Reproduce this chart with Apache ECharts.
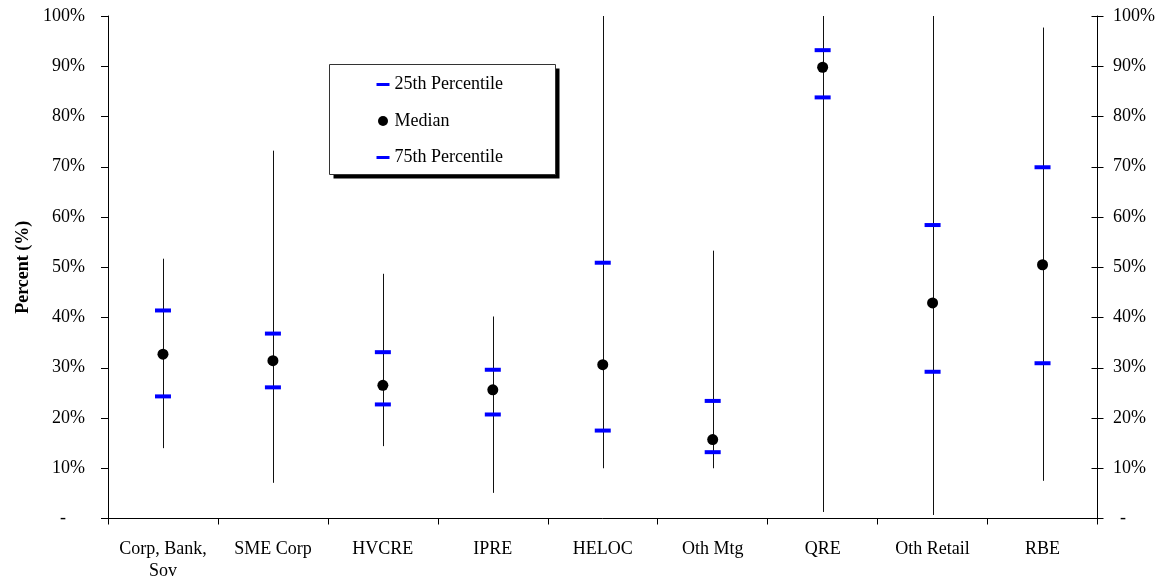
<!DOCTYPE html>
<html>
<head>
<meta charset="utf-8">
<script src="https://cdn.jsdelivr.net/npm/echarts@6/dist/echarts.min.js"></script>
<style>
html,body{margin:0;padding:0;background:#fff;}
#chart{width:1166px;height:588px;}
</style>
</head>
<body>
<div id="chart"></div>
<script>
const categories = ['Corp, Bank,\nSov', 'SME Corp', 'HVCRE', 'IPRE', 'HELOC', 'Oth Mtg', 'QRE', 'Oth Retail', 'RBE'];
const whiskerLow  = [14.0, 7.1, 14.4, 5.1, 10.0, 10.0, 1.3, 0.7, 7.5];
const whiskerHigh = [51.7, 73.2, 48.7, 40.2, 100, 53.3, 100, 100, 97.7];
const p25    = [24.3, 26.1, 22.7, 20.7, 17.5, 13.2, 83.8, 29.2, 30.9];
const median = [32.7, 31.4, 26.5, 25.6, 30.6, 15.7, 89.8, 42.9, 50.5];
const p75    = [41.4, 36.8, 33.1, 29.6, 50.9, 23.4, 93.2, 58.4, 69.9];
const yTicks = [0, 10, 20, 30, 40, 50, 60, 70, 80, 90, 100];

const FONT = 'Liberation Serif';
const chart = echarts.init(document.getElementById('chart'), null, {renderer: 'canvas'});

const whiskerData = categories.map((c, i) => [i, whiskerLow[i], whiskerHigh[i]]);
const dashIcon = 'path://M0,0H13V3H0Z';

const fmtLeft = v => v === 0 ? '{d|-}' : v + '%';
const fmtRight = v => v === 0 ? '{r|-}' : v + '%';

chart.setOption({
  backgroundColor: '#fff',
  animation: false,
  grid: {left: 108, right: 68.5, top: 16, bottom: 69.5, containLabel: false},
  graphic: [
    {type: 'rect', z: 3, z2: 0, silent: true,
      shape: {x: 333.5, y: 68.5, width: 226, height: 110},
      style: {fill: '#000'}},
    {type: 'rect', z: 3, z2: 1, silent: true,
      shape: {x: 329.5, y: 64.5, width: 226, height: 110},
      style: {fill: '#fff', stroke: '#333', lineWidth: 1}}
  ],
  legend: {
    orient: 'vertical',
    left: 329.5,
    top: 64.5,
    z: 5,
    padding: [11, 41, 8, 47],
    itemWidth: 13,
    itemHeight: 10,
    itemGap: 18.5,
    textStyle: {fontFamily: FONT, fontSize: 18, color: '#000', lineHeight: 18},
    data: [
      {name: '25th Percentile', icon: dashIcon},
      {name: 'Median', icon: 'circle'},
      {name: '75th Percentile', icon: dashIcon}
    ]
  },
  xAxis: {
    type: 'category',
    data: categories,
    boundaryGap: true,
    axisLine: {lineStyle: {color: '#000', width: 1}},
    axisTick: {show: true, length: 6, lineStyle: {color: '#000'}},
    axisLabel: {fontFamily: FONT, fontSize: 18, color: '#000', lineHeight: 22, margin: 20, interval: 0},
    splitLine: {show: false}
  },
  yAxis: [
    {
      type: 'value', min: 0, max: 100, interval: 10, position: 'left',
      name: 'Percent (%)', nameLocation: 'middle', nameGap: 71,
      nameTextStyle: {fontFamily: FONT, fontSize: 18, fontWeight: 'bold', color: '#000'},
      axisLine: {show: true, lineStyle: {color: '#000', width: 1}},
      axisTick: {show: true, length: 7, lineStyle: {color: '#000'}},
      axisLabel: {fontFamily: FONT, fontSize: 18, color: '#000', margin: 23, formatter: fmtLeft,
        rich: {d: {fontFamily: FONT, fontSize: 18, color: '#000', padding: [0, 19, 0, 0]}}},
      splitLine: {show: false}
    },
    {
      type: 'value', min: 0, max: 100, interval: 10, position: 'right',
      axisLine: {show: true, lineStyle: {color: '#000', width: 1}},
      axisTick: {show: true, length: 6, lineStyle: {color: '#000'}},
      axisLabel: {fontFamily: FONT, fontSize: 18, color: '#000', margin: 15.5, formatter: fmtRight,
        rich: {r: {fontFamily: FONT, fontSize: 18, color: '#000', padding: [0, 0, 0, 7]}}},
      splitLine: {show: false}
    },
    {
      type: 'value', min: 0, max: 100, interval: 10, position: 'right',
      axisLine: {show: false},
      axisTick: {show: true, inside: true, length: 6, lineStyle: {color: '#000'}},
      axisLabel: {show: false},
      splitLine: {show: false}
    }
  ],
  series: [
    {
      name: 'Range', type: 'custom', data: whiskerData, z: 1,
      encode: {x: 0, y: [1, 2]},
      renderItem: function (params, api) {
        const lo = api.coord([api.value(0), api.value(1)]);
        const hi = api.coord([api.value(0), api.value(2)]);
        const x = Math.round(lo[0]) + 0.5;
        return {type: 'line', shape: {x1: x, y1: lo[1], x2: x, y2: hi[1]},
          style: {stroke: '#111', lineWidth: 1}};
      }
    },
    {
      name: '25th Percentile', type: 'scatter', data: p25, z: 2,
      symbol: 'rect', symbolSize: [16, 4],
      itemStyle: {color: '#0000ff', opacity: 1}
    },
    {
      name: 'Median', type: 'scatter', data: median, z: 2,
      symbol: 'circle', symbolSize: 11,
      itemStyle: {color: '#000', opacity: 1}
    },
    {
      name: '75th Percentile', type: 'scatter', data: p75, z: 2,
      symbol: 'rect', symbolSize: [16, 4],
      itemStyle: {color: '#0000ff', opacity: 1}
    }
  ]
});
</script>
</body>
</html>
